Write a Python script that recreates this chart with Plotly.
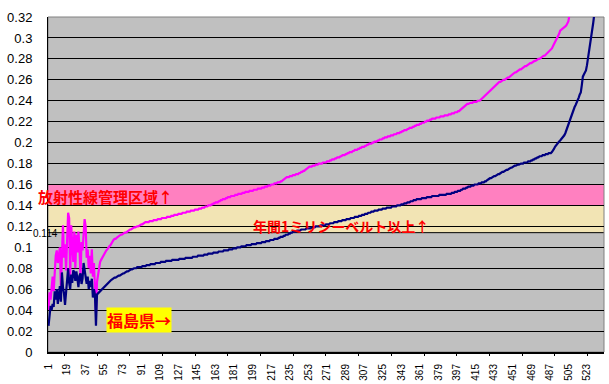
import plotly.graph_objects as go

# ---------------- data ----------------
N_CATEGORIES = 539

# first 47 categories (noisy part), magenta series
pref_magenta = [
    0.040, 0.057, 0.050, 0.066, 0.072, 0.058, 0.080, 0.092, 0.097, 0.085,
    0.092, 0.100, 0.062, 0.098, 0.121, 0.090, 0.103, 0.078, 0.110, 0.133,
    0.128, 0.072, 0.121, 0.100, 0.086, 0.115, 0.080, 0.112, 0.095, 0.115,
    0.100, 0.072, 0.105, 0.097, 0.110, 0.127, 0.120, 0.090, 0.098, 0.080,
    0.092, 0.075, 0.098, 0.072, 0.085, 0.065, 0.038,
]
# first 47 categories (noisy part), navy series
pref_navy = [
    0.025, 0.036, 0.044, 0.040, 0.046, 0.043, 0.058, 0.050, 0.060, 0.046,
    0.056, 0.063, 0.048, 0.076, 0.062, 0.056, 0.045, 0.060, 0.072, 0.080,
    0.066, 0.060, 0.074, 0.066, 0.078, 0.076, 0.068, 0.077, 0.070, 0.062,
    0.073, 0.075, 0.065, 0.070, 0.085, 0.078, 0.070, 0.065, 0.072, 0.060,
    0.068, 0.062, 0.070, 0.052, 0.060, 0.055, 0.025,
]

# sorted part (category 48 onward), magenta
fuku_magenta = [
    0.067, 0.074, 0.081, 0.086, 0.088, 0.090, 0.092, 0.093, 0.095, 0.097,
    0.098, 0.100, 0.101, 0.102, 0.104, 0.106, 0.107, 0.108, 0.108, 0.109,
    0.110, 0.110, 0.111, 0.112, 0.112, 0.113, 0.113, 0.114, 0.114, 0.115,
    0.116, 0.116, 0.117, 0.117, 0.118, 0.118, 0.119, 0.119, 0.120, 0.120,
    0.120, 0.121, 0.121, 0.122, 0.122, 0.123, 0.123, 0.124, 0.124, 0.124,
    0.124, 0.125, 0.125, 0.125, 0.125, 0.126, 0.126, 0.126, 0.126, 0.127,
    0.127, 0.127, 0.127, 0.128, 0.128, 0.128, 0.128, 0.128, 0.129, 0.129,
    0.129, 0.129, 0.130, 0.130, 0.130, 0.131, 0.131, 0.131, 0.131, 0.132,
    0.132, 0.132, 0.132, 0.133, 0.133, 0.133, 0.133, 0.134, 0.134, 0.134,
    0.134, 0.135, 0.135, 0.135, 0.135, 0.136, 0.136, 0.136, 0.136, 0.137,
    0.137, 0.137, 0.138, 0.138, 0.138, 0.139, 0.139, 0.139, 0.140, 0.140,
    0.140, 0.141, 0.141, 0.142, 0.142, 0.143, 0.143, 0.143, 0.144, 0.144,
    0.145, 0.145, 0.146, 0.146, 0.146, 0.147, 0.147, 0.148, 0.148, 0.148,
    0.149, 0.149, 0.149, 0.149, 0.150, 0.150, 0.150, 0.151, 0.151, 0.151,
    0.151, 0.152, 0.152, 0.152, 0.153, 0.153, 0.153, 0.153, 0.154, 0.154,
    0.154, 0.154, 0.155, 0.155, 0.155, 0.155, 0.156, 0.156, 0.156, 0.156,
    0.157, 0.157, 0.157, 0.158, 0.158, 0.158, 0.159, 0.159, 0.159, 0.160,
    0.160, 0.160, 0.161, 0.161, 0.161, 0.162, 0.162, 0.162, 0.163, 0.163,
    0.164, 0.165, 0.166, 0.166, 0.167, 0.167, 0.167, 0.168, 0.168, 0.168,
    0.169, 0.169, 0.169, 0.170, 0.170, 0.170, 0.171, 0.171, 0.172, 0.172,
    0.173, 0.173, 0.174, 0.175, 0.175, 0.176, 0.177, 0.177, 0.177, 0.178,
    0.178, 0.178, 0.179, 0.179, 0.179, 0.180, 0.180, 0.180, 0.180, 0.181,
    0.181, 0.181, 0.181, 0.182, 0.182, 0.182, 0.183, 0.183, 0.184, 0.184,
    0.184, 0.185, 0.185, 0.186, 0.186, 0.186, 0.187, 0.187, 0.188, 0.188,
    0.188, 0.189, 0.189, 0.190, 0.190, 0.191, 0.191, 0.191, 0.192, 0.192,
    0.193, 0.193, 0.193, 0.194, 0.194, 0.195, 0.195, 0.196, 0.196, 0.196,
    0.197, 0.197, 0.198, 0.198, 0.199, 0.199, 0.199, 0.200, 0.200, 0.201,
    0.201, 0.201, 0.202, 0.202, 0.203, 0.203, 0.203, 0.204, 0.204, 0.205,
    0.205, 0.205, 0.206, 0.206, 0.206, 0.207, 0.207, 0.207, 0.208, 0.208,
    0.208, 0.209, 0.209, 0.209, 0.210, 0.210, 0.211, 0.211, 0.212, 0.212,
    0.212, 0.213, 0.213, 0.214, 0.214, 0.214, 0.215, 0.215, 0.216, 0.216,
    0.217, 0.217, 0.217, 0.218, 0.218, 0.219, 0.219, 0.219, 0.220, 0.220,
    0.221, 0.221, 0.221, 0.222, 0.222, 0.223, 0.223, 0.223, 0.223, 0.224,
    0.224, 0.224, 0.224, 0.225, 0.225, 0.225, 0.225, 0.226, 0.226, 0.226,
    0.226, 0.227, 0.227, 0.227, 0.228, 0.228, 0.228, 0.229, 0.229, 0.229,
    0.230, 0.230, 0.231, 0.232, 0.233, 0.234, 0.235, 0.236, 0.237, 0.237,
    0.237, 0.238, 0.238, 0.238, 0.238, 0.239, 0.239, 0.239, 0.239, 0.240,
    0.240, 0.240, 0.241, 0.242, 0.243, 0.244, 0.245, 0.246, 0.247, 0.248,
    0.249, 0.250, 0.251, 0.252, 0.253, 0.254, 0.255, 0.255, 0.256, 0.257,
    0.258, 0.258, 0.259, 0.259, 0.260, 0.260, 0.261, 0.261, 0.262, 0.262,
    0.263, 0.264, 0.265, 0.265, 0.266, 0.267, 0.267, 0.268, 0.269, 0.269,
    0.270, 0.270, 0.271, 0.271, 0.272, 0.273, 0.273, 0.274, 0.274, 0.275,
    0.276, 0.276, 0.277, 0.277, 0.278, 0.278, 0.279, 0.279, 0.280, 0.280,
    0.281, 0.281, 0.282, 0.283, 0.283, 0.284, 0.285, 0.285, 0.286, 0.287,
    0.288, 0.290, 0.292, 0.294, 0.296, 0.298, 0.299, 0.301, 0.304, 0.307,
    0.308, 0.309, 0.310, 0.310, 0.311, 0.312, 0.314, 0.316, 0.322, 0.330,
]

# sorted part (category 48 onward), navy
fuku_navy = [
    0.055, 0.056, 0.057, 0.058, 0.059, 0.060, 0.061, 0.062, 0.063, 0.065,
    0.066, 0.067, 0.068, 0.068, 0.069, 0.070, 0.070, 0.071, 0.071, 0.072,
    0.072, 0.073, 0.073, 0.074, 0.074, 0.075, 0.075, 0.076, 0.076, 0.077,
    0.077, 0.078, 0.079, 0.079, 0.079, 0.080, 0.080, 0.080, 0.080, 0.081,
    0.081, 0.081, 0.081, 0.081, 0.082, 0.082, 0.082, 0.082, 0.083, 0.083,
    0.083, 0.083, 0.084, 0.084, 0.084, 0.084, 0.084, 0.085, 0.085, 0.085,
    0.085, 0.085, 0.086, 0.086, 0.086, 0.086, 0.086, 0.087, 0.087, 0.087,
    0.087, 0.087, 0.087, 0.088, 0.088, 0.088, 0.088, 0.088, 0.088, 0.088,
    0.089, 0.089, 0.089, 0.089, 0.089, 0.089, 0.090, 0.090, 0.090, 0.090,
    0.090, 0.090, 0.090, 0.091, 0.091, 0.091, 0.091, 0.091, 0.092, 0.092,
    0.092, 0.092, 0.092, 0.092, 0.093, 0.093, 0.093, 0.093, 0.094, 0.094,
    0.094, 0.094, 0.094, 0.095, 0.095, 0.095, 0.095, 0.095, 0.096, 0.096,
    0.096, 0.096, 0.096, 0.097, 0.097, 0.097, 0.097, 0.097, 0.098, 0.098,
    0.098, 0.098, 0.099, 0.099, 0.099, 0.099, 0.100, 0.100, 0.100, 0.100,
    0.101, 0.101, 0.101, 0.101, 0.101, 0.102, 0.102, 0.102, 0.102, 0.102,
    0.103, 0.103, 0.103, 0.103, 0.103, 0.104, 0.104, 0.104, 0.104, 0.104,
    0.105, 0.105, 0.105, 0.105, 0.106, 0.106, 0.106, 0.106, 0.107, 0.107,
    0.107, 0.107, 0.108, 0.108, 0.108, 0.108, 0.109, 0.109, 0.110, 0.110,
    0.110, 0.111, 0.111, 0.112, 0.112, 0.112, 0.113, 0.113, 0.114, 0.114,
    0.115, 0.115, 0.115, 0.115, 0.116, 0.116, 0.116, 0.116, 0.117, 0.117,
    0.117, 0.117, 0.117, 0.118, 0.118, 0.118, 0.118, 0.118, 0.119, 0.119,
    0.119, 0.119, 0.120, 0.120, 0.120, 0.120, 0.120, 0.121, 0.121, 0.121,
    0.121, 0.121, 0.122, 0.122, 0.122, 0.122, 0.123, 0.123, 0.123, 0.123,
    0.124, 0.124, 0.124, 0.124, 0.125, 0.125, 0.125, 0.125, 0.126, 0.126,
    0.126, 0.126, 0.127, 0.127, 0.127, 0.127, 0.128, 0.128, 0.128, 0.128,
    0.129, 0.129, 0.129, 0.129, 0.130, 0.130, 0.130, 0.131, 0.131, 0.131,
    0.132, 0.132, 0.132, 0.133, 0.133, 0.133, 0.134, 0.134, 0.134, 0.135,
    0.135, 0.135, 0.135, 0.136, 0.136, 0.136, 0.136, 0.137, 0.137, 0.137,
    0.137, 0.138, 0.138, 0.138, 0.138, 0.138, 0.139, 0.139, 0.139, 0.139,
    0.139, 0.140, 0.140, 0.140, 0.140, 0.141, 0.141, 0.141, 0.142, 0.142,
    0.142, 0.143, 0.143, 0.143, 0.144, 0.144, 0.144, 0.145, 0.145, 0.145,
    0.146, 0.146, 0.146, 0.146, 0.146, 0.147, 0.147, 0.147, 0.147, 0.147,
    0.148, 0.148, 0.148, 0.148, 0.148, 0.149, 0.149, 0.149, 0.149, 0.149,
    0.149, 0.149, 0.150, 0.150, 0.150, 0.150, 0.150, 0.150, 0.150, 0.151,
    0.151, 0.151, 0.151, 0.151, 0.152, 0.152, 0.152, 0.153, 0.153, 0.153,
    0.154, 0.154, 0.154, 0.155, 0.155, 0.156, 0.156, 0.156, 0.157, 0.157,
    0.158, 0.158, 0.158, 0.159, 0.159, 0.159, 0.160, 0.160, 0.160, 0.160,
    0.161, 0.161, 0.161, 0.162, 0.162, 0.162, 0.163, 0.163, 0.164, 0.165,
    0.165, 0.166, 0.166, 0.167, 0.167, 0.168, 0.168, 0.169, 0.169, 0.170,
    0.170, 0.171, 0.171, 0.172, 0.172, 0.173, 0.173, 0.174, 0.174, 0.175,
    0.175, 0.176, 0.176, 0.177, 0.177, 0.178, 0.178, 0.179, 0.179, 0.179,
    0.180, 0.180, 0.180, 0.180, 0.181, 0.181, 0.181, 0.181, 0.182, 0.182,
    0.182, 0.183, 0.183, 0.184, 0.184, 0.185, 0.185, 0.186, 0.186, 0.187,
    0.187, 0.187, 0.188, 0.188, 0.188, 0.189, 0.189, 0.189, 0.190, 0.190,
    0.190, 0.191, 0.192, 0.194, 0.196, 0.197, 0.198, 0.199, 0.201, 0.202,
    0.203, 0.204, 0.206, 0.207, 0.209, 0.212, 0.215, 0.218, 0.220, 0.222,
    0.225, 0.228, 0.231, 0.234, 0.236, 0.238, 0.240, 0.243, 0.246, 0.248,
    0.255, 0.263, 0.265, 0.267, 0.269, 0.274, 0.280, 0.286, 0.292, 0.300,
    0.307, 0.314, 0.322, 0.330,
]

series_magenta = pref_magenta + fuku_magenta
series_navy = pref_navy + fuku_navy

x_tick_values = [1, 19, 37, 55, 73, 91, 109, 127, 145, 163, 181, 199, 217, 235,
                 253, 271, 289, 307, 325, 343, 361, 379, 397, 415, 433, 451,
                 469, 487, 505, 523]
x_tick_labels = [str(v) for v in x_tick_values]

y_tick_values = [0, 0.02, 0.04, 0.06, 0.08, 0.1, 0.12, 0.14, 0.16, 0.18,
                 0.2, 0.22, 0.24, 0.26, 0.28, 0.3, 0.32]
y_tick_labels = ["0", "0.02", "0.04", "0.06", "0.08", "0.1", "0.12", "0.14",
                 "0.16", "0.18", "0.2", "0.22", "0.24", "0.26", "0.28", "0.3",
                 "0.32"]

band_1msv = (0.114, 0.14)      # 年間1ミリシーベルト以上
band_control = (0.14, 0.16)    # 放射線管理区域
line_value = 0.114

# ---------------- figure ----------------
fig = go.Figure()

fig.add_trace(go.Scatter(
    x=list(range(1, len(series_magenta) + 1)), y=series_magenta,
    mode="lines", line=dict(color="#FF00FF", width=2.2),
    hoverinfo="skip", showlegend=False))
fig.add_trace(go.Scatter(
    x=list(range(1, len(series_navy) + 1)), y=series_navy,
    mode="lines", line=dict(color="#000080", width=2.2),
    hoverinfo="skip", showlegend=False))

NUM_FONT = "Liberation Sans, Arial, sans-serif"
JP_FONT = "Noto Sans CJK JP, sans-serif"

shapes = [
    dict(type="rect", xref="paper", yref="y", x0=0, x1=1,
         y0=band_1msv[0], y1=band_1msv[1], fillcolor="#F2E4B4",
         line=dict(width=0), layer="below"),
    dict(type="rect", xref="paper", yref="y", x0=0, x1=1,
         y0=band_control[0], y1=band_control[1], fillcolor="#FF80C0",
         line=dict(width=0), layer="below"),
    dict(type="line", xref="paper", yref="y", x0=0, x1=1,
         y0=line_value, y1=line_value, line=dict(color="black", width=1),
         layer="below"),
    dict(type="rect", xref="paper", yref="paper", x0=0, x1=1, y0=0, y1=1,
         line=dict(color="#808080", width=1), fillcolor="rgba(0,0,0,0)",
         layer="below"),
]

annotations = [
    dict(text="<b>放射性線管理区域↑</b>", xref="paper", yref="y",
         x=-0.021, y=0.1485, xanchor="left", yanchor="middle", showarrow=False,
         font=dict(family=JP_FONT, size=15, color="#FF0000")),
    dict(text="<b>年間1ミリシーベルト以上↑</b>", xref="paper", yref="y",
         x=0.5266, y=0.1207, xanchor="center", yanchor="middle",
         showarrow=False,
         font=dict(family=JP_FONT, size=14, color="#FF0000")),
    dict(text=str(line_value), xref="paper", yref="y",
         x=-0.005, y=0.1133, xanchor="center", yanchor="middle",
         showarrow=False,
         font=dict(family=NUM_FONT, size=10, color="black")),
    dict(text="<b>福島県→</b>", xref="paper", yref="y",
         x=0.1635, y=0.0304, xanchor="center", yanchor="middle",
         showarrow=False, bgcolor="#FFFF00", borderpad=0,
         font=dict(family=JP_FONT, size=16, color="#FF0000")),
]

x_range = [0.5, N_CATEGORIES + 0.5]
tick_mark_positions = [16.3 + 31.7 * k for k in range(17)]

fig.update_layout(
    width=609, height=384,
    margin=dict(l=48, r=5, t=17, b=32),
    paper_bgcolor="white", plot_bgcolor="#C0C0C0",
    shapes=shapes, annotations=annotations,
    xaxis=dict(
        range=x_range, tickmode="array", tickvals=x_tick_values,
        ticktext=x_tick_labels, tickangle=-90, ticks="",
        ticklabelstandoff=6, automargin=False,
        tickfont=dict(family=NUM_FONT, size=10, color="black"),
        showgrid=False, zeroline=False, showline=True,
        linecolor="black", linewidth=2,
    ),
    xaxis2=dict(
        range=x_range, overlaying="x", side="bottom", tickmode="array",
        tickvals=tick_mark_positions, ticks="outside", ticklen=3,
        tickcolor="black", tickwidth=1, showticklabels=False,
        showgrid=False, zeroline=False, showline=False,
    ),
    yaxis=dict(
        range=[0, 0.32], tickmode="array", tickvals=y_tick_values,
        ticktext=y_tick_labels, ticks="", ticklabelstandoff=12,
        automargin=False,
        tickfont=dict(family=NUM_FONT, size=13, color="black"),
        showgrid=True, gridcolor="black", gridwidth=1,
        zeroline=False, showline=True, linecolor="black", linewidth=1,
    ),
)

# empty trace so the tick-mark axis is drawn
fig.add_trace(go.Scatter(x=[], y=[], xaxis="x2", yaxis="y",
                         showlegend=False, hoverinfo="skip"))

fig.write_html(
    "out.html",
    config={"displayModeBar": False},
    post_script="document.body.style.margin='0';document.body.style.padding='0';"
)
